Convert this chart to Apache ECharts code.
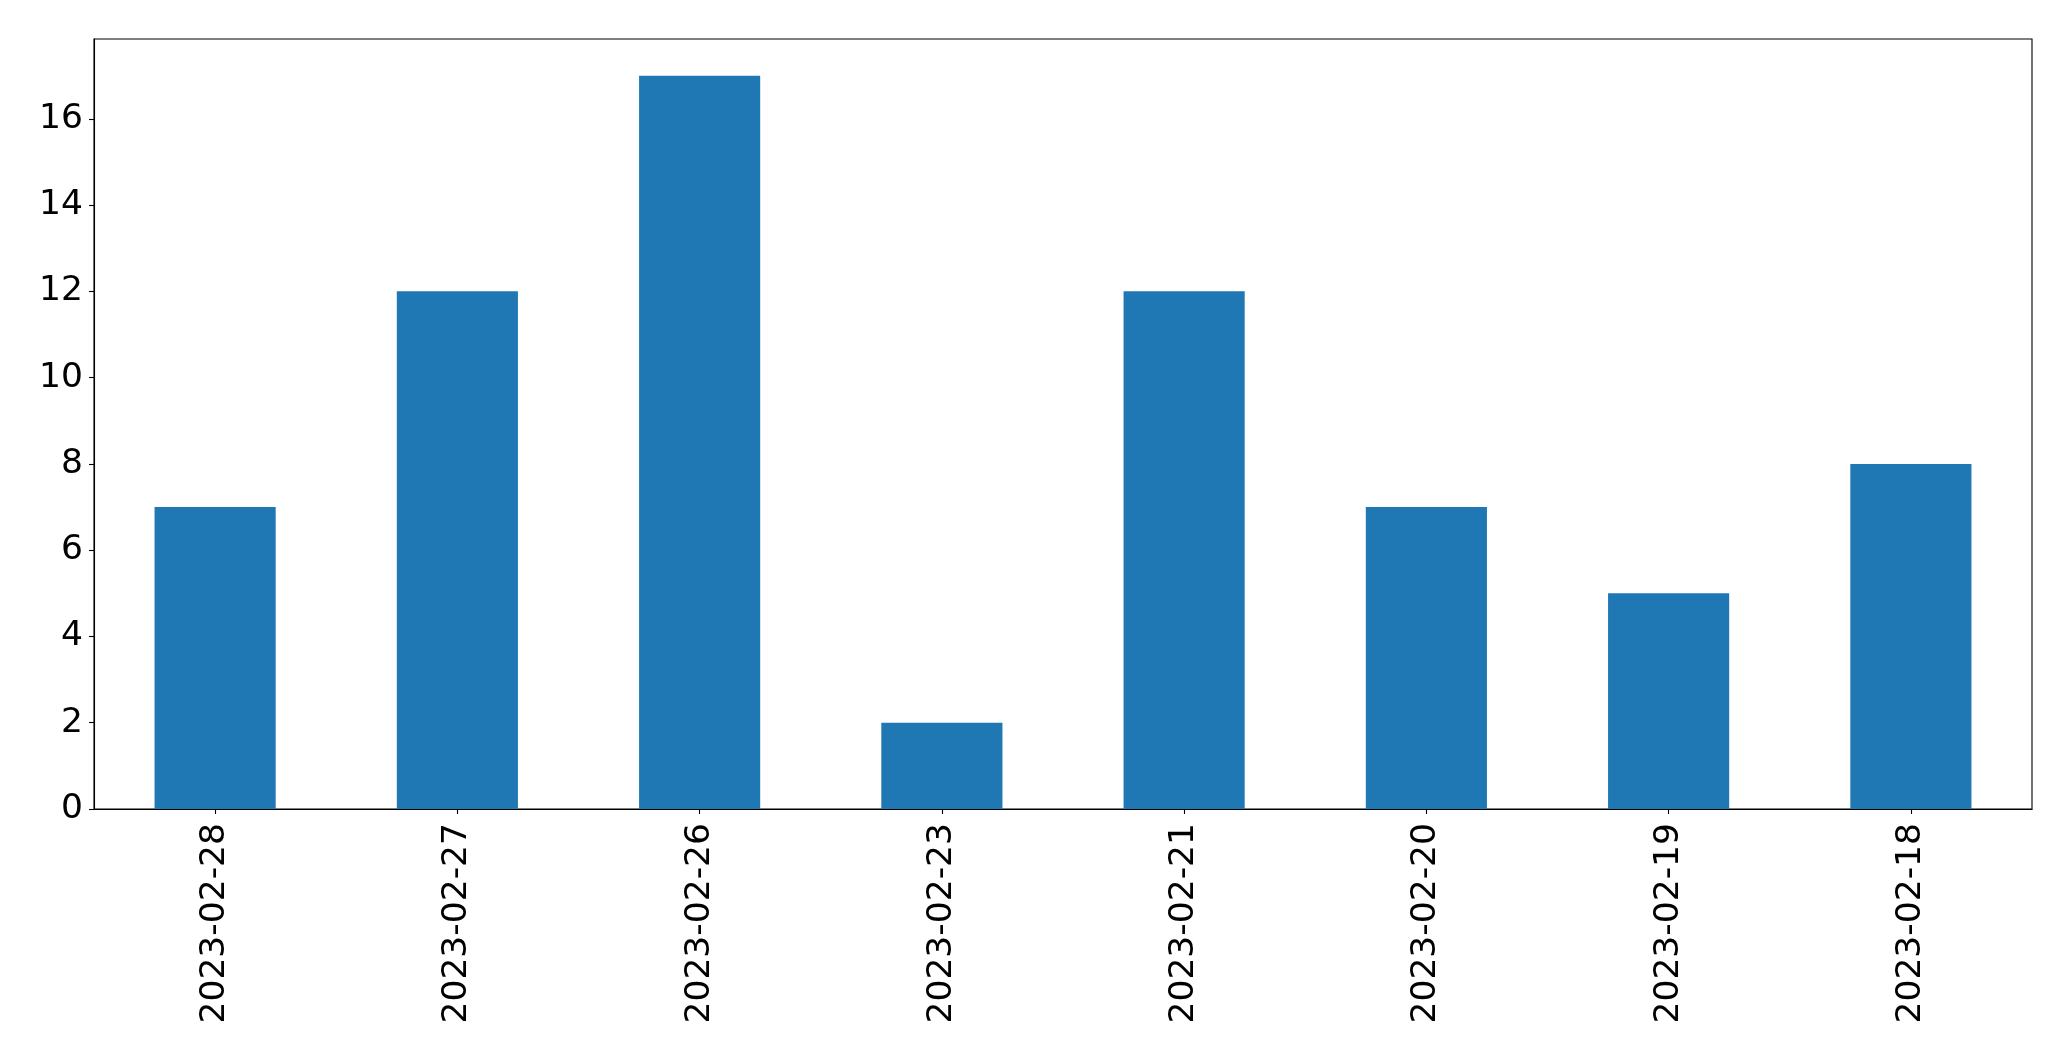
<!DOCTYPE html>
<html>
<head>
<meta charset="utf-8">
<script src="https://cdn.jsdelivr.net/npm/echarts@6/dist/echarts.min.js"></script>
<style>
html,body{margin:0;padding:0;background:#fff;}
#chart{width:2071px;height:1061px;}
</style>
</head>
<body>
<div id="chart"></div>
<script>
const categories = ['2023-02-28','2023-02-27','2023-02-26','2023-02-23','2023-02-21','2023-02-20','2023-02-19','2023-02-18'];
const values = [7, 12, 17, 2, 12, 7, 5, 8];
const yTicks = [0, 2, 4, 6, 8, 10, 12, 14, 16];
const yMax = 17.85;

const chart = echarts.init(document.getElementById('chart'), null, {renderer: 'canvas'});
const font = 'DejaVu Sans';
chart.setOption({
  animation: false,
  backgroundColor: '#ffffff',
  grid: {
    left: 94, top: 39, right: 39, bottom: 252,
    show: true, borderColor: '#000000', borderWidth: 1.1, backgroundColor: 'transparent'
  },
  xAxis: {
    type: 'category',
    data: categories,
    boundaryGap: true,
    axisLine: {show: true, lineStyle: {color: '#000', width: 1.1}},
    axisTick: {show: true, alignWithLabel: true, length: 5, lineStyle: {color: '#000', width: 1.1}},
    axisLabel: {rotate: 90, margin: 14, color: '#000', fontSize: 34.5, fontFamily: font, interval: 0},
    splitLine: {show: false}
  },
  yAxis: {
    type: 'value',
    min: 0, max: yMax, interval: 2,
    axisLine: {show: true, lineStyle: {color: '#000', width: 1.1}},
    axisTick: {show: true, length: 5, customValues: yTicks, lineStyle: {color: '#000', width: 1.1}},
    axisLabel: {margin: 11, color: '#000', fontSize: 34.5, fontFamily: font, customValues: yTicks},
    splitLine: {show: false}
  },
  series: [{
    type: 'bar',
    data: values,
    barWidth: '50%',
    itemStyle: {color: '#1f77b4'}
  }]
});
</script>
</body>
</html>
